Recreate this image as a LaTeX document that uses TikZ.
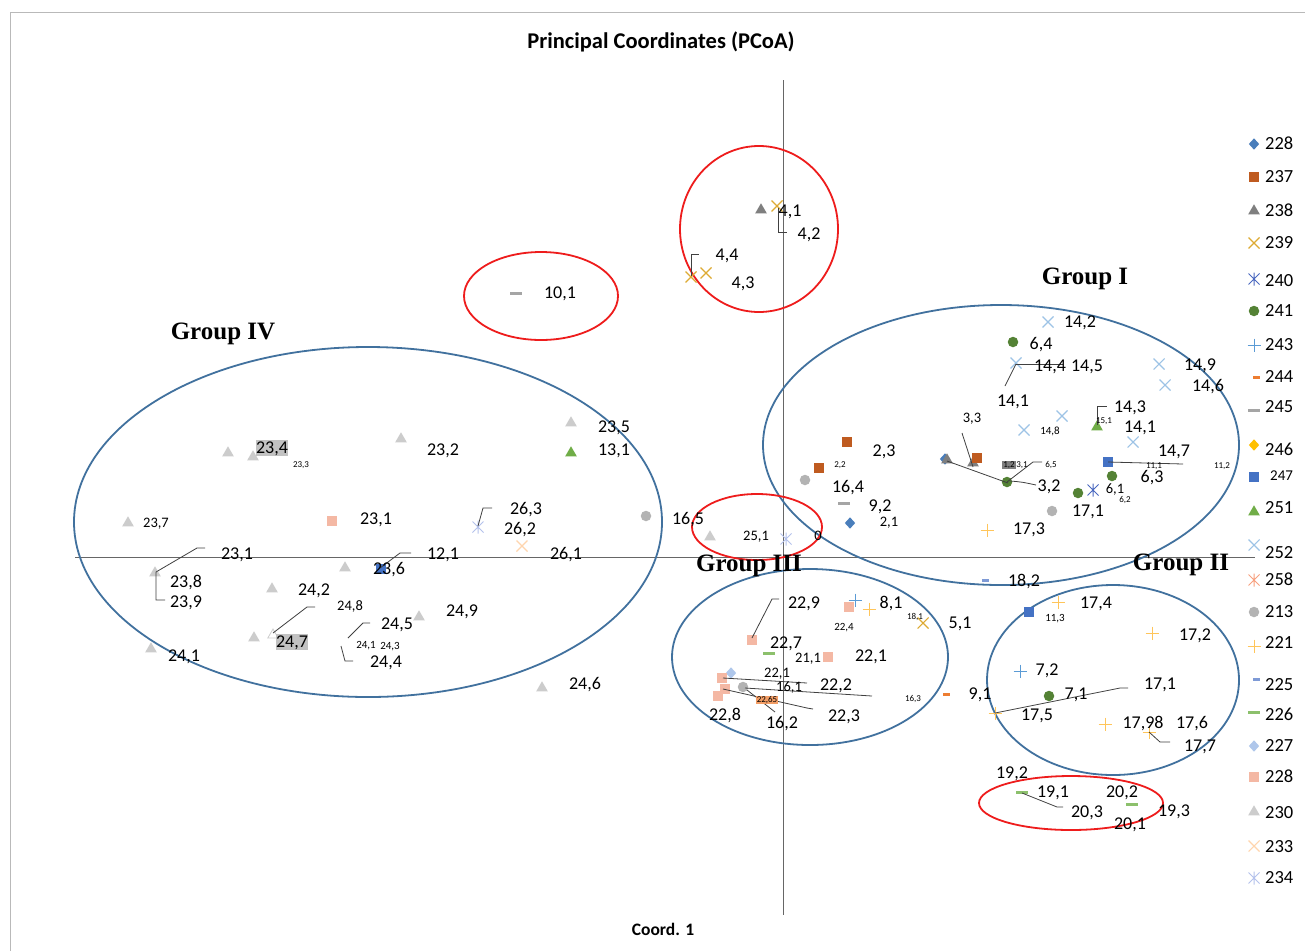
\documentclass[tikz,border=0pt]{standalone}
\usepackage{fontspec}
\setmainfont{Carlito}
\newfontfamily\grpfont{Liberation Serif}
\usetikzlibrary{shapes.geometric}
\definecolor{c228}{HTML}{4A7EBB}
\definecolor{c237}{HTML}{BF5B20}
\definecolor{c238}{HTML}{7F7F7F}
\definecolor{c239}{HTML}{DDAA33}
\definecolor{c240}{HTML}{4A68C0}
\definecolor{c241}{HTML}{548235}
\definecolor{c243}{HTML}{5B9BD5}
\definecolor{c244}{HTML}{ED7D31}
\definecolor{c245}{HTML}{A5A5A5}
\definecolor{c246}{HTML}{FFC000}
\definecolor{c247}{HTML}{4472C4}
\definecolor{c251}{HTML}{70AD47}
\definecolor{c252}{HTML}{9DC3E6}
\definecolor{c258}{HTML}{F8A07E}
\definecolor{c213}{HTML}{B3B3B3}
\definecolor{c221}{HTML}{FFC55A}
\definecolor{c225}{HTML}{7E9AD6}
\definecolor{c226}{HTML}{8CC06C}
\definecolor{c227}{HTML}{AFC7EB}
\definecolor{c228b}{HTML}{F4B8A4}
\definecolor{c230}{HTML}{CCCCCC}
\definecolor{c233}{HTML}{FFD5AE}
\definecolor{c234}{HTML}{B4C2EC}
\definecolor{blueel}{HTML}{41719E}
\definecolor{redel}{HTML}{EE1C1C}
\definecolor{leadc}{HTML}{404040}
\newcommand\mk[4]{\node[#1=#2] (#3) at (#4) {};}
\tikzset{
  mtri/.style={regular polygon, regular polygon sides=3, fill=#1, draw=none, inner sep=0pt, minimum size=13.5pt},
  msq/.style={rectangle, fill=#1, inner sep=0pt, minimum size=10.5pt},
  mcirc/.style={circle, fill=#1, inner sep=0pt, minimum size=10.5pt},
  mdia/.style={diamond, fill=#1, inner sep=0pt, minimum width=10.5pt, minimum height=11.5pt},
  mdash/.style={rectangle, fill=#1, inner sep=0pt, minimum width=12pt, minimum height=3pt},
  mdashs/.style={rectangle, fill=#1, inner sep=0pt, minimum width=7pt, minimum height=3pt},
  pics/mx/.style={code={\draw[#1, line width=1.1pt] (-5.5,-5.5)--(5.5,5.5) (-5.5,5.5)--(5.5,-5.5);}},
  pics/mast/.style={code={\draw[#1, line width=1pt] (-5.5,-5.5)--(5.5,5.5) (-5.5,5.5)--(5.5,-5.5) (0,-6.5)--(0,6.5);}},
  pics/mplus/.style={code={\draw[#1, line width=1pt] (-6.5,0)--(6.5,0) (0,-6.5)--(0,6.5);}},
  lb/.style={inner sep=0pt, font=\fontsize{18}{21}\selectfont, text height=11.4pt, text depth=0pt},
  lm/.style={inner sep=0pt, font=\fontsize{14.5}{17}\selectfont, text height=9.2pt, text depth=0pt},
  ls/.style={inner sep=0pt, font=\fontsize{11}{13}\selectfont, text height=7pt, text depth=0pt},
  lt/.style={inner sep=0pt, font=\fontsize{9}{10}\selectfont, text height=5.7pt, text depth=0pt},
  lg/.style={anchor=west, inner sep=0pt, font=\fontsize{18.5}{21}\selectfont, text height=11.7pt, text depth=0pt},
  grp/.style={inner sep=0pt, font=\grpfont\bfseries\fontsize{25}{28}\selectfont},
  lead/.style={draw=leadc, line width=0.8pt},
  bel/.style={draw=blueel, line width=1.8pt},
  rel/.style={draw=redel, line width=1.8pt}
}
\begin{document}
\begin{tikzpicture}[x=1pt,y=-1pt]
\useasboundingbox (0,0) rectangle (1305,951);
\fill[white] (0,0) rectangle (1305,951);
\draw[gray!55, line width=0.8pt] (10,951) -- (10,12) -- (1305,12);
% title
\node[inner sep=0pt, font=\bfseries\fontsize{22.5}{26}\selectfont] (title) at (661,42) {Principal Coordinates (PCoA)};
\node[inner sep=0pt, font=\bfseries\fontsize{17.5}{20}\selectfont] (xlab) at (663,929) {Coord. 1};
% axes
\draw[gray!80!black, line width=0.8pt] (75,557) -- (1255,557);
\draw[gray!80!black, line width=0.8pt] (783,80) -- (783,915);
% ellipses
\draw[bel] (368,522) ellipse [x radius=294, y radius=175];
\draw[bel] (1001,445) ellipse [x radius=238, y radius=140];
\draw[bel] (810,657) ellipse [x radius=138, y radius=88];
\draw[bel] (1113,680) ellipse [x radius=126, y radius=95];
\draw[rel] (759,229) ellipse [x radius=79, y radius=83];
\draw[rel] (541,296) ellipse [x radius=77, y radius=44];
\draw[rel] (757,527) ellipse [x radius=65, y radius=33];
\draw[rel] (1071,803) ellipse [x radius=92, y radius=27];
% group labels
\node[grp] (g4) at (223,334) {Group IV};
\node[grp] (g1) at (1085,279) {Group I};
\node[grp] (g3) at (749,566) {Group III};
\node[grp] (g2) at (1181,565) {Group II};

% ---------- top red circle ----------
\mk{mtri}{c238}{t1}{761,210}
\pic at (777,206) {mx=c239};
\pic at (691,277) {mx=c239};
\pic at (706,273) {mx=c239};
\draw[lead] (778,208) -- (778,232) -- (787,232);
\draw[lead] (691,276) -- (691,254) -- (699,254);
\node[lb] (l41) at (790,211) {4,1};
\node[lb] (l42) at (809,234) {4,2};
\node[lb] (l44) at (727,255) {4,4};
\node[lb] (l43) at (743,283) {4,3};
% 10,1
\mk{mdash}{c245}{t2}{516,293}
\node[lb] (l101) at (560,293) {10,1};

% ---------- Group IV ----------
\mk{mtri}{c230}{a1}{228,453}
\mk{mtri}{c230}{a2}{253,457}
\mk{mtri}{c230}{a3}{128,523}
\mk{mtri}{c230}{a4}{155,573}
\mk{mtri}{c230}{a5}{272,589}
\mk{mtri}{c230}{a6}{254,638}
\mk{mtri}{c230}{a7}{151,649}
\mk{mtri}{c230}{a8}{345,568}
\mk{mtri}{c230}{a9}{419,617}
\mk{mtri}{c230}{a10}{401,439}
\mk{mtri}{c230}{a11}{571,423}
\mk{mtri}{c230}{a12}{542,688}
\node[regular polygon, regular polygon sides=3, draw=c230, fill=white, line width=0.8pt, inner sep=0pt, minimum size=12pt] (a13) at (273,635) {};
\mk{msq}{c228b}{a14}{332,521}
\mk{msq}{c247}{a15}{381,569}
\mk{mtri}{c251}{a16}{571,453}
\pic at (478,527) {mast=c234};
\pic at (522,546) {mx=c233};
\mk{mcirc}{c213}{a17}{646,516}
\draw[lead] (205,548) -- (197,548) -- (156,572) -- (156,600) -- (165,600);
\draw[lead] (315,607) -- (307,607) -- (273,633);
\draw[lead] (370,623) -- (363,623) -- (348,638);
\draw[lead] (341,646) -- (345,661) -- (353,661);
\draw[lead] (380,568) -- (400,553) -- (411,553);
\draw[lead] (478,526) -- (483,508) -- (492,508);
\node[lb, fill=c230!95!black, inner xsep=0.5pt, inner ysep=2pt] (l234) at (272,448) {23,4};
\node[lt] (l233) at (301,465) {23,3};
\node[lm] (l237) at (156,523) {23,7};
\node[lb] (l231a) at (376,519) {23,1};
\node[lb] (l231b) at (237,554) {23,1};
\node[lb] (l238) at (186,582) {23,8};
\node[lb] (l239) at (186,602) {23,9};
\node[lb] (l242) at (314,590) {24,2};
\node[lm] (l248) at (350,606) {24,8};
\node[lb, fill=c230!95!black, inner xsep=0.5pt, inner ysep=2pt] (l247) at (292,642) {24,7};
\node[lb] (l241) at (184,656) {24,1};
\node[ls] (l241s) at (366,645) {24,1};
\node[ls] (l243s) at (390,646) {24,3};
\node[lb] (l245) at (397,624) {24,5};
\node[lb] (l244) at (386,662) {24,4};
\node[lb] (l236) at (389,569) {23,6};
\node[lb] (l235) at (614,427) {23,5};
\node[lb] (l131) at (614,450) {13,1};
\node[lb] (l232) at (443,450) {23,2};
\node[lb] (l263) at (526,509) {26,3};
\node[lb] (l262) at (520,529) {26,2};
\node[lb] (l121) at (443,554) {12,1};
\node[lb] (l261) at (566,554) {26,1};
\node[lb] (l249) at (462,611) {24,9};
\node[lb] (l246) at (585,684) {24,6};
\node[lb] (l165) at (688,519) {16,5};

% ---------- 25,1 ellipse ----------
\mk{mtri}{c230}{b1}{710,537}
\pic at (786,539) {mast=c234};
\node[lm] (l251) at (756,536) {25,1};
\node[lm] (l0) at (818,536) {0};

% ---------- Group I ----------
\mk{msq}{c237}{d1}{847,442}
\mk{msq}{c237}{d2}{819,468}
\mk{mcirc}{c213}{d3}{805,480}
\mk{mdash}{c245}{d4}{844,503}
\mk{mdia}{c228}{d5}{850,523}
\mk{mdia}{c228}{d6}{945,459}
\mk{mtri}{c238}{d7}{947,460}
\mk{mtri}{c238}{d8}{973,463}
\mk{msq}{c237}{d9}{977,458}
\mk{mcirc}{c241}{d10}{1007,482}
\mk{mcirc}{c241}{d11}{1013,342}
\mk{mcirc}{c241}{d12}{1112,476}
\mk{mcirc}{c241}{d13}{1078,493}
\pic at (1048,322) {mx=c252};
\pic at (1016,363) {mx=c252};
\pic at (1159,364) {mx=c252};
\pic at (1165,385) {mx=c252};
\pic at (1062,416) {mx=c252};
\pic at (1024,430) {mx=c252};
\pic at (1133,442) {mx=c252};
\mk{mtri}{c251}{d14}{1097,427}
\mk{msq}{c247}{d15}{1108,462}
\pic at (1093,490) {mast=c240};
\mk{mcirc}{c213}{d16}{1052,511}
\pic at (987,530) {mplus=c221};
\mk{mdashs}{c225}{d17}{985,580}
\draw[lead] (962,433) -- (973,467);
\draw[lead] (947,461) -- (1008,483);
\draw[lead] (1007,482) -- (1033,462) -- (1042,462);
\draw[lead] (1010,481) .. controls (1022,482) .. (1036,485);
\draw[lead] (1016,364) -- (1063,364);
\draw[lead] (1016,364) -- (1005,386);
\draw[lead] (1097,425) -- (1097,406) -- (1107,406);
\draw[lead] (1108,462) -- (1183,464);
\node[lb] (l23) at (884,451) {2,3};
\node[lt] (l22) at (840,465) {2,2};
\node[lb] (l164) at (848,487) {16,4};
\node[lb] (l92) at (880,506) {9,2};
\node[lm] (l21) at (889,522) {2,1};
\node[lm] (l33) at (972,418) {3,3};
\node[lb] (l142) at (1080,322) {14,2};
\node[lb] (l64) at (1041,344) {6,4};
\node[lb] (l144) at (1050,366) {14,4};
\node[lb] (l145) at (1087,366) {14,5};
\node[lb] (l149) at (1200,365) {14,9};
\node[lb] (l146) at (1208,386) {14,6};
\node[lb] (l141a) at (1013,401) {14,1};
\node[lb] (l143) at (1130,407) {14,3};
\node[lb] (l141b) at (1140,427) {14,1};
\node[ls] (l148) at (1050,431) {14,8};
\node[lt] (l151) at (1104,421) {15,1};
\node[lb] (l147) at (1174,451) {14,7};
\node[lt, fill=c238, inner xsep=1pt, inner ysep=1.5pt] (l12) at (1009,465) {1,2};
\node[lt] (l31) at (1022,465) {3,1};
\node[lt] (l65) at (1051,465) {6,5};
\node[lt] (l111) at (1154,466) {11,1};
\node[lt] (l112) at (1222,466) {11,2};
\node[lb] (l63) at (1152,477) {6,3};
\node[lb] (l32) at (1049,486) {3,2};
\node[lm] (l61) at (1115,489) {6,1};
\node[lt] (l62) at (1125,500) {6,2};
\node[lb] (l171a) at (1088,511) {17,1};
\node[lb] (l173) at (1029,529) {17,3};
\node[lb] (l182) at (1024,581) {18,2};

% ---------- Group III ----------
\mk{mdia}{c227}{e1}{731,673}
\mk{msq}{c228b}{e2}{752,640}
\mk{msq}{c228b}{e3}{849,607}
\mk{msq}{c228b}{e4}{828,657}
\mk{msq}{c228b}{e5}{722,678}
\mk{msq}{c228b}{e6}{725,689}
\mk{msq}{c228b}{e7}{718,696}
\mk{mdash}{c226}{e8}{769,653}
\pic at (855,600) {mplus=c243};
\pic at (869,609) {mplus=c221};
\pic at (923,623) {mx=c239};
\mk{mcirc}{c213}{e9}{743,687}
\mk{mdashs}{c244}{e10}{946,694}
\draw[lead] (752,638) -- (772,599) -- (779,599);
\draw[lead] (723,678) -- (807,683);
\draw[lead] (745,688) -- (872,696);
\draw[lead] (723,689) -- (807,708) -- (813,709);
\draw[lead] (747,690) -- (775,712);
\node[lb] (l229) at (804,603) {22,9};
\node[lb] (l81) at (891,603) {8,1};
\node[ls] (l224) at (844,627) {22,4};
\node[lt] (l181) at (915,617) {18,1};
\node[lb] (l51) at (960,623) {5,1};
\node[lb] (l227) at (786,643) {22,7};
\node[lm] (l211) at (808,658) {21,1};
\node[lb] (l221a) at (871,656) {22,1};
\node[lm] (l221b) at (777,673) {22,1};
\node[lm] (l161) at (789,687) {16,1};
\node[lb] (l222) at (836,685) {22,2};
\node[lt, fill=c244!75, inner xsep=1pt, inner ysep=1.5pt] (l2265) at (767,700) {22,65};
\node[lt] (l163) at (913,699) {16,3};
\node[lb] (l91) at (980,694) {9,1};
\node[lb] (l228) at (725,715) {22,8};
\node[lb] (l162) at (782,723) {16,2};
\node[lb] (l223) at (844,716) {22,3};

% ---------- Group II ----------
\mk{msq}{c247}{f1}{1029,612}
\pic at (1058,602) {mplus=c221};
\pic at (1152,633) {mplus=c221};
\pic at (1020,671) {mplus=c243};
\mk{mcirc}{c241}{f2}{1049,696}
\pic at (995,713) {mplus=c221};
\pic at (1105,724) {mplus=c221};
\pic at (1149,732) {mplus=c221};
\draw[lead] (995,713) -- (1120,688) -- (1128,688);
\draw[lead] (1149,732) -- (1160,742) -- (1170,742);
\node[lb] (l174) at (1096,603) {17,4};
\node[ls] (l113) at (1055,618) {11,3};
\node[lb] (l172) at (1195,635) {17,2};
\node[lb] (l72) at (1047,670) {7,2};
\node[lb] (l171b) at (1160,684) {17,1};
\node[lb] (l71) at (1076,694) {7,1};
\node[lb] (l175) at (1037,715) {17,5};
\node[lb] (l1798) at (1143,723) {17,98};
\node[lb] (l176) at (1192,723) {17,6};
\node[lb] (l177) at (1200,746) {17,7};

% ---------- bottom red ellipse ----------
\mk{mdash}{c226}{h1}{1022,792}
\mk{mdash}{c226}{h2}{1132,804}
\draw[lead] (1022,793) -- (1057,807) -- (1063,807);
\node[lb] (l192) at (1012,773) {19,2};
\node[lb] (l191) at (1053,792) {19,1};
\node[lb] (l203) at (1087,812) {20,3};
\node[lb] (l202) at (1122,792) {20,2};
\node[lb] (l193) at (1174,811) {19,3};
\node[lb] (l201) at (1130,824) {20,1};

% ---------- legend ----------
\mk{mdia}{c228}{k1}{1254,144}
\node[lg] (k1t) at (1265,144) {228};
\mk{msq}{c237}{k2}{1254,177}
\node[lg] (k2t) at (1265,177) {237};
\mk{mtri}{c238}{k3}{1254,211}
\node[lg] (k3t) at (1265,211) {238};
\pic at (1254,243) {mx=c239};
\node[lg] (k4t) at (1265,243) {239};
\pic at (1254,279) {mast=c240};
\node[lg] (k5t) at (1265,281) {240};
\mk{mcirc}{c241}{k6}{1254,311}
\node[lg] (k6t) at (1265,311) {241};
\pic at (1254,345) {mplus=c243};
\node[lg] (k7t) at (1265,345) {243};
\mk{mdashs}{c244}{k8}{1256,377}
\node[lg] (k8t) at (1265,377) {244};
\mk{mdash}{c245}{k9}{1254,410}
\node[lg] (k9t) at (1265,407) {245};
\mk{mdia}{c246}{k10}{1254,445}
\node[lg] (k10t) at (1265,450) {246};
\mk{msq}{c247}{k11}{1254,477}
\node[lg, font=\fontsize{15}{17}\selectfont, text height=9.5pt] (k11t) at (1270,476) {247};
\mk{mtri}{c251}{k12}{1254,512}
\node[lg] (k12t) at (1265,508) {251};
\pic at (1254,545) {mx=c252};
\node[lg] (k13t) at (1265,553) {252};
\pic at (1254,580) {mast=c258};
\node[lg] (k14t) at (1265,580) {258};
\mk{mcirc}{c213}{k15}{1254,612}
\node[lg] (k15t) at (1265,612) {213};
\pic at (1254,646) {mplus=c221};
\node[lg] (k16t) at (1265,643) {221};
\mk{mdashs}{c225}{k17}{1256,679}
\node[lg] (k17t) at (1265,685) {225};
\mk{mdash}{c226}{k18}{1254,712}
\node[lg] (k18t) at (1265,715) {226};
\mk{mdia}{c227}{k19}{1254,746}
\node[lg] (k19t) at (1265,746) {227};
\mk{msq}{c228b}{k20}{1254,777}
\node[lg] (k20t) at (1265,777) {228};
\mk{mtri}{c230}{k21}{1254,812}
\node[lg] (k21t) at (1265,813) {230};
\pic at (1254,846) {mx=c233};
\node[lg] (k22t) at (1265,847) {233};
\pic at (1254,878) {mast=c234};
\node[lg] (k23t) at (1265,878) {234};
\end{tikzpicture}
\end{document}
